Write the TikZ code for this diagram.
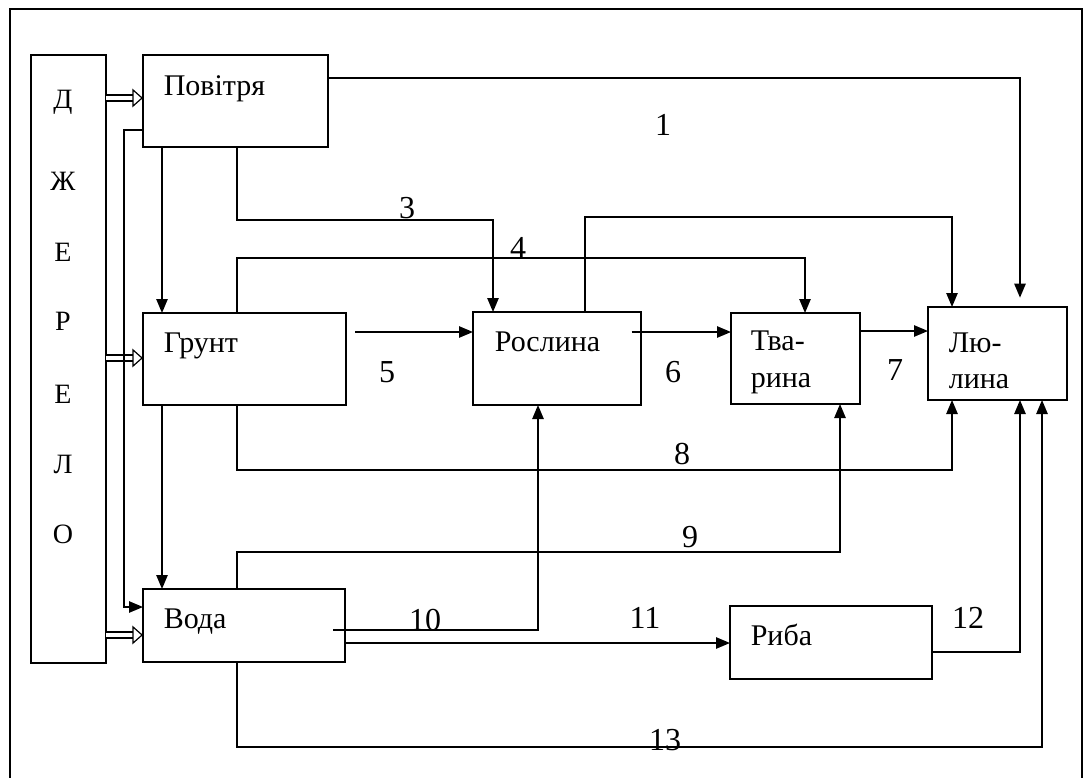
\documentclass[tikz,border=0pt]{standalone}
\usepackage{fontspec}
\setmainfont{Liberation Serif}
\usetikzlibrary{arrows.meta,fit}
\begin{document}
\begin{tikzpicture}[x=0.75pt,y=-0.75pt, line width=1.2pt,
  box/.style={draw, rectangle, inner sep=0pt, outer sep=0pt},
  arr/.style={-{Triangle[length=10.5pt,width=8.5pt]}},
  dbl/.style={double, double distance=3.5pt, line width=0.9pt, -{Triangle[open,length=8pt,width=14pt]}},
  txt/.style={anchor=base west, inner sep=0pt, font=\fontsize{22.5}{27}\selectfont},
  num/.style={anchor=base, inner sep=0pt, font=\fontsize{24}{28}\selectfont},
  let/.style={anchor=base, inner sep=0pt, font=\fontsize{21}{25}\selectfont}]
\useasboundingbox (0,0) rectangle (1090,778);
% outer frame
\draw (10,778) -- (10,9) -- (1082,9) -- (1082,778);
% boxes
\node[box, fit={(31,55) (106,663)}] (src) {};
\node[box, fit={(143,55) (328,147)}] (pov) {};
\node[box, fit={(143,313) (346,405)}] (gru) {};
\node[box, fit={(143,589) (345,662)}] (vod) {};
\node[box, fit={(473,312) (641,405)}] (ros) {};
\node[box, fit={(731,313) (860,404)}] (tva) {};
\node[box, fit={(928,307) (1067,400)}] (lyu) {};
\node[box, fit={(730,606) (932,679)}] (rib) {};
% source letters
\node[let] (l1) at (63,108) {Д};
\node[let] (l2) at (63,190) {Ж};
\node[let] (l3) at (63,261) {Е};
\node[let] (l4) at (63,330) {Р};
\node[let] (l5) at (63,403) {Е};
\node[let] (l6) at (63,473) {Л};
\node[let] (l7) at (63,543) {О};
% box texts
\node[txt] (tpov) at (163,95) {Повітря};
\node[txt] (tgru) at (163,352) {Грунт};
\node[txt] (tvod) at (163,628) {Вода};
\node[txt] (tros) at (494,351) {Рослина};
\node[txt] (ttva1) at (750,350) {Тва-};
\node[txt] (ttva2) at (750,387) {рина};
\node[txt] (tlyu1) at (948,352) {Лю-};
\node[txt] (tlyu2) at (948,388) {лина};
\node[txt] (trib) at (750,645) {Риба};
% double arrows from source
\draw[dbl] (src.east |- 0,98) -- (pov.west |- 0,98);
\draw[dbl] (src.east |- 0,358) -- (gru.west |- 0,358);
\draw[dbl] (src.east |- 0,635) -- (vod.west |- 0,635);
% vertical flows on the left
\draw[arr] (162,0 |- pov.south) -- (162,0 |- gru.north);
\draw[arr] (162,0 |- gru.south) -- (162,0 |- vod.north);
\draw[arr] (pov.west |- 0,130) -- (124,130) |- (vod.west |- 0,607);
% 1
\draw[arr, shorten >=7pt] (pov.east |- 0,78) -| (1020,0 |- lyu.north);
% 3
\draw[arr] (237,0 |- pov.south) -- (237,220) -| (493,0 |- ros.north);
% 4
\draw[arr] (237,0 |- gru.north) -- (237,258) -| (805,0 |- tva.north);
% Roslyna -> Lyudyna (top)
\draw[arr] (585,0 |- ros.north) -- (585,217) -| (952,0 |- lyu.north);
% 5
\draw[arr] ([xshift=7pt]gru.east |- 0,332) -- (ros.west |- 0,332);
% 6
\draw[arr] ([xshift=-7pt]ros.east |- 0,332) -- (tva.west |- 0,332);
% 7
\draw[arr] (tva.east |- 0,331) -- (lyu.west |- 0,331);
% 8
\draw[arr] (237,0 |- gru.south) -- (237,470) -| (952,0 |- lyu.south);
% 9
\draw[arr] (237,0 |- vod.north) -- (237,552) -| (840,0 |- tva.south);
% 10
\draw[arr] ([xshift=-9pt]vod.east |- 0,630) -- (538,630) -- (538,0 |- ros.south);
% 11
\draw[arr] (vod.east |- 0,643) -- (rib.west |- 0,643);
% 12
\draw[arr] (rib.east |- 0,652) -| (1020,0 |- lyu.south);
% 13
\draw[arr] (237,0 |- vod.south) -- (237,747) -| (1042,0 |- lyu.south);
% numbers
\node[num] (n1) at (663,135) {1};
\node[num] (n3) at (407,218) {3};
\node[num] (n4) at (518,258) {4};
\node[num] (n5) at (387,382) {5};
\node[num] (n6) at (673,382) {6};
\node[num] (n7) at (895,380) {7};
\node[num] (n8) at (682,464) {8};
\node[num] (n9) at (690,547) {9};
\node[num] (n10) at (425,630) {10};
\node[num] (n11) at (645,628) {11};
\node[num] (n12) at (968,628) {12};
\node[num] (n13) at (665,750) {13};
\end{tikzpicture}
\end{document}
